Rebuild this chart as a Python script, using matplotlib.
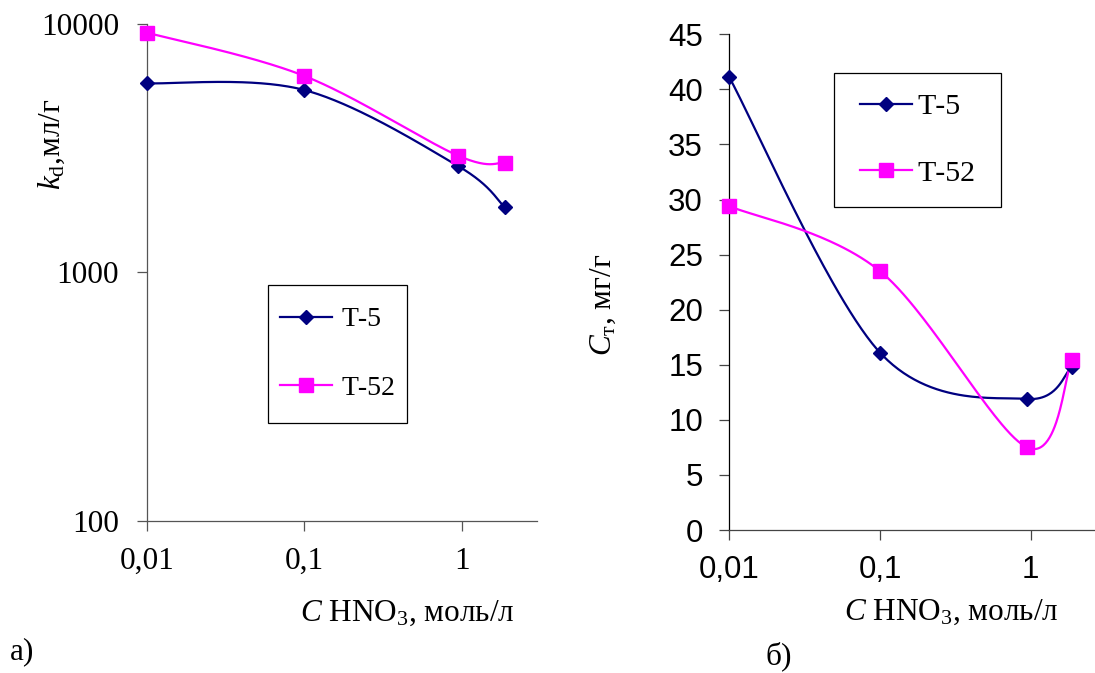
import numpy as np
import matplotlib.pyplot as plt
from matplotlib.lines import Line2D
from matplotlib.patches import Rectangle

plt.rcParams['mathtext.fontset'] = 'custom'
plt.rcParams['mathtext.rm'] = 'Liberation Serif'
plt.rcParams['mathtext.it'] = 'Liberation Serif:italic'
plt.rcParams['font.family'] = ['Liberation Serif', 'DejaVu Serif']

# данные
c_hno3 = [0.01, 0.1, 0.945, 1.87]
kd_t5 = [5770, 5420, 2680, 1830]
kd_t52 = [9230, 6175, 2950, 2760]
ct_t5 = [41.1, 16.1, 11.9, 14.8]
ct_t52 = [29.4, 23.5, 7.5, 15.4]
names = ['Т-5', 'Т-52']
xtick_vals = [0.01, 0.1, 1]
xtick_lbls = ['0,01', '0,1', '1']
kd_ticks = [100, 1000, 10000]
ct_ticks = list(range(0, 50, 5))

navy = '#000080'
pink = '#FF00FF'
W, H = 1095, 673
FS = 22.5


def smooth(xs, ys, n=60):
    # сглаживание как в Excel (Безье / Catmull-Rom)
    P = np.column_stack([xs, ys])
    out = []
    for i in range(len(P) - 1):
        p0 = P[i - 1] if i > 0 else P[i]
        p3 = P[i + 2] if i + 2 < len(P) else P[i + 1]
        c1 = P[i] + (P[i + 1] - p0) / 6
        c2 = P[i + 1] - (p3 - P[i]) / 6
        t = np.linspace(0, 1, n)[:, None]
        seg = (1 - t)**3 * P[i] + 3 * (1 - t)**2 * t * c1 + 3 * (1 - t) * t**2 * c2 + t**3 * P[i + 1]
        out.append(seg if i == 0 else seg[1:])
    return np.vstack(out)


def px(x, y):
    return x / W, 1 - y / H


fig = plt.figure(figsize=(W / 100, H / 100), dpi=100)

# ---- а) ----
ax1 = fig.add_axes([147 / W, 1 - 520.6 / H, (537 - 147) / W, (520.6 - 24) / H])
ax1.set_xscale('log')
ax1.set_yscale('log')
lx = np.log10(c_hno3)
for ys, col, mk, ms in [(kd_t5, navy, 'D', 7.5), (kd_t52, pink, 's', 10)]:
    s = smooth(lx, np.log10(ys))
    ax1.plot(10**s[:, 0], 10**s[:, 1], color=col, lw=1.6, clip_on=False)
    ax1.plot(c_hno3, ys, ls='none', marker=mk, ms=ms, color=col, clip_on=False, zorder=3)
ax1.set_xlim(0.01, 3)
ax1.set_ylim(100, 10000)
ax1.set_xticks(xtick_vals)
ax1.set_xticklabels(xtick_lbls)
ax1.set_yticks(kd_ticks)
ax1.set_yticklabels([str(v) for v in kd_ticks])
ax1.minorticks_off()
for sp in ['top', 'right']:
    ax1.spines[sp].set_visible(False)
for sp in ['left', 'bottom']:
    ax1.spines[sp].set_color('#555555')
    ax1.spines[sp].set_linewidth(0.9)
ax1.tick_params(axis='both', direction='out', length=7, width=0.9, color='#555555',
                labelsize=FS)
ax1.tick_params(axis='y', pad=13)
ax1.tick_params(axis='x', pad=12)

# ---- б) ----
ax2 = fig.add_axes([729.3 / W, 1 - 530 / H, (W - 729.3) / W, (530 - 34.3) / H])
ax2.set_xscale('log')
for ys, col, mk, ms in [(ct_t5, navy, 'D', 7.5), (ct_t52, pink, 's', 10)]:
    s = smooth(lx, ys)
    ax2.plot(10**s[:, 0], s[:, 1], color=col, lw=1.6, clip_on=False)
    ax2.plot(c_hno3, ys, ls='none', marker=mk, ms=ms, color=col, clip_on=False, zorder=3)
ax2.set_xlim(0.01, 2.67)
ax2.set_ylim(0, 45)
ax2.set_xticks(xtick_vals)
ax2.set_xticklabels(xtick_lbls)
ax2.set_yticks(ct_ticks)
ax2.minorticks_off()
for sp in ['top', 'right']:
    ax2.spines[sp].set_visible(False)
ax2.spines['left'].set_color('black')
ax2.spines['bottom'].set_color('#444444')
ax2.spines['left'].set_linewidth(0.9)
ax2.spines['bottom'].set_linewidth(0.9)
ax2.tick_params(axis='both', direction='out', length=7, width=0.9, color='#444444',
                labelsize=FS)
ax2.tick_params(axis='y', pad=12)
ax2.tick_params(axis='x', pad=11)
for lab in ax2.get_xticklabels() + ax2.get_yticklabels():
    lab.set_family('Liberation Sans')

# легенды: рамка отдельно, содержимое по центру рамки
handles = [Line2D([], [], color=navy, lw=1.6, marker='D', ms=7.5),
           Line2D([], [], color=pink, lw=1.6, marker='s', ms=10)]
boxes = [(ax1, (268, 285, 407, 423), 20, 1.55, 0.32),
         (ax2, (834, 72.7, 1001, 207.3), 21.5, 1.32, 0.17)]
for ax, (x0, y0, x1, y1), fs, lsp, tpad in boxes:
    fig.patches.append(Rectangle(px(x0, y1), (x1 - x0) / W, (y1 - y0) / H,
                                 transform=fig.transFigure, fill=False,
                                 edgecolor='black', lw=0.9, zorder=5))
    ax.legend(handles, names, loc='center', bbox_to_anchor=px((x0 + x1) / 2, (y0 + y1) / 2),
              bbox_transform=fig.transFigure, frameon=False, fontsize=fs,
              labelspacing=lsp, handlelength=52 / (fs * 1.389), handletextpad=tpad,
              borderpad=0, borderaxespad=0)

# подписи осей
fig.text(*px(52, 144), r'$k_{\rm d}$,мл/г', rotation=90, ha='center', va='center', fontsize=FS)
fig.text(*px(603, 305), r'$C_{\rm т}$, мг/г', rotation=90, ha='center', va='center', fontsize=FS)
fig.text(*px(407, 613), r'$C$ HNO$_3$, моль/л', ha='center', va='center', fontsize=FS)
fig.text(*px(951, 612), r'$C$ HNO$_3$, моль/л', ha='center', va='center', fontsize=FS)
fig.text(*px(22, 652), 'а)', ha='center', va='center', fontsize=FS)
fig.text(*px(779, 656), 'б)', ha='center', va='center', fontsize=FS)

fig.savefig('out.png', dpi=100)
